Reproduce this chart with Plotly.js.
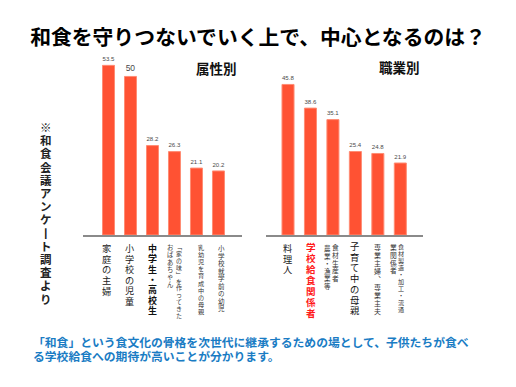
<!DOCTYPE html>
<html>
<head>
<meta charset="utf-8">
<script src="https://cdn.plot.ly/plotly-3.0.1.min.js"></script>
<style>html,body{margin:0;padding:0;background:#fff;}#chart{width:516px;height:387px;}</style>
</head>
<body>
<div id="chart"></div>
<script>
// ---- Data ----
const attrCategories = ['家庭の主婦', '小学校の児童', '中学生・高校生', '「家の味」を作ってきたおばあちゃん', '乳幼児を育成中の母親', '小学校就学前の幼児'];
const attrValues = [53.5, 50, 28.2, 26.3, 21.1, 20.2];
const jobCategories = ['料理人', '学校給食関係者', '食材生産者農業・漁業等', '子育て中の母親', '専業主婦、専業主夫', '食材製造・加工・流通業関係者'];
const jobValues = [45.8, 38.6, 35.1, 25.4, 24.8, 21.9];

// label columns (vertical writing, right column first)
const attrLabelCols = [['家庭の主婦'], ['小学校の児童'], ['中学生・高校生'], ['「家の味」を作ってきた', 'おばあちゃん'], ['乳幼児を育成中の母親'], ['小学校就学前の幼児']];
const jobLabelCols = [['料理人'], ['学校給食関係者'], ['食材生産者', '農業・漁業等'], ['子育て中の母親'], ['専業主婦、専業主夫'], ['食材製造・加工・流通', '業関係者']];

const W = 516, H = 387;
const CJK = '"Noto Sans CJK JP", "Noto Sans CJK SC", sans-serif';
// compact primary metrics for stacked text, CJK glyphs fall back to Noto
const VCJK = '"Liberation Sans", "Noto Sans CJK JP", "Noto Sans CJK SC", sans-serif';
const fx = p => p / W;
const fy = p => 1 - p / H;

const barColor = '#FF5233';
const valFont = {family: '"Liberation Sans", Arial, sans-serif', size: 8.5, color: '#4a4a4a'};
const traces = [
  {
    type: 'bar', x: attrCategories, y: attrValues, xaxis: 'x', yaxis: 'y',
    text: attrValues.map(String), textposition: 'outside', cliponaxis: false,
    textfont: valFont,
    marker: {color: barColor, line: {color: '#FF8C74', width: 1}},
    width: 0.545, hoverinfo: 'none'
  },
  {
    type: 'bar', x: jobCategories, y: jobValues, xaxis: 'x2', yaxis: 'y2',
    text: jobValues.map(String), textposition: 'outside', cliponaxis: false,
    textfont: valFont,
    marker: {color: barColor, line: {color: '#FF8C74', width: 1}},
    width: 0.536, hoverinfo: 'none'
  }
];

const vmap = {'「': '﹁', '」': '﹂', '、': '︑', 'ー': '丨', '。': '︒'};
const annotations = [];
// one annotation per vertical column; line pitch comes from the base font size,
// glyph size from an inner span
function vtext(str, xpx, topPx, pitch, color, bold) {
  const size = +(pitch / 1.15).toFixed(2);
  const chars = Array.from(str).map(c => vmap[c] || c);
  const inner = chars.map(ch => '<span style="font-size:' + size + 'px">' + ch + '</span>').join('<br>');
  annotations.push({
    xref: 'paper', yref: 'paper', x: fx(xpx), y: fy(topPx),
    xanchor: 'center', yanchor: 'top', showarrow: false, align: 'center',
    borderpad: 0,
    text: bold ? '<b>' + inner + '</b>' : inner,
    font: {family: VCJK, size: pitch / 1.3, color: color}
  });
}

// left group labels
vtext(attrLabelCols[0][0], 106, 241.5, 10.7, '#222', false);
vtext(attrLabelCols[1][0], 129.5, 242.5, 10.5, '#222', false);
vtext(attrLabelCols[2][0], 152.5, 241.5, 10.3, '#111', true);
vtext(attrLabelCols[3][0], 179, 243, 6.9, '#333', false);
vtext(attrLabelCols[3][1], 170.5, 243, 7.3, '#333', false);
vtext(attrLabelCols[4][0], 200.5, 243, 7.1, '#333', false);
vtext(attrLabelCols[5][0], 221, 243, 7.5, '#333', false);

// right group labels
vtext(jobLabelCols[0][0], 287, 241.5, 10.6, '#222', false);
vtext(jobLabelCols[1][0], 310.7, 241, 11, '#FF1A1A', true);
vtext(jobLabelCols[2][0], 335, 242.5, 7.8, '#333', false);
vtext(jobLabelCols[2][1], 327, 243, 7.5, '#333', false);
vtext(jobLabelCols[3][0], 354.5, 241, 10.7, '#111', false);
vtext(jobLabelCols[4][0], 377.5, 242, 8, '#333', false);
vtext(jobLabelCols[5][0], 401, 242, 7.0, '#333', false);
vtext(jobLabelCols[5][1], 393.5, 242, 7.8, '#333', false);

// side note
vtext('※和食会議アンケート調査より', 46, 121, 13.2, '#222', true);

// group titles
annotations.push({xref: 'paper', yref: 'paper', x: fx(216.5), y: fy(68.5), xanchor: 'center', yanchor: 'middle', showarrow: false,
  text: '<b>属性別</b>', font: {family: CJK, size: 13.5, color: '#111'}});
annotations.push({xref: 'paper', yref: 'paper', x: fx(399), y: fy(67), xanchor: 'center', yanchor: 'middle', showarrow: false,
  text: '<b>職業別</b>', font: {family: CJK, size: 13.5, color: '#111'}});

// bottom comment
annotations.push({xref: 'paper', yref: 'paper', x: fx(31), y: fy(342.5), xanchor: 'left', yanchor: 'middle', showarrow: false,
  text: '<b>「和食」という食文化の骨格を次世代に継承するための場として、子供たちが食べ</b>', font: {family: VCJK, size: 11.8, color: '#1A7CC4'}});
annotations.push({xref: 'paper', yref: 'paper', x: fx(31), y: fy(357), xanchor: 'left', yanchor: 'middle', showarrow: false,
  text: '<b>る学校給食への期待が高いことが分かります。</b>', font: {family: VCJK, size: 11.8, color: '#1A7CC4'}});

const base = 152 / H;
const layout = {
  width: W, height: H,
  margin: {l: 0, r: 0, t: 0, b: 0},
  paper_bgcolor: '#fff', plot_bgcolor: 'rgba(0,0,0,0)',
  showlegend: false,
  title: {text: '<b>和食を守りつないでいく上で、中心となるのは？</b>', x: 0.5, xanchor: 'center', y: fy(37.5), yanchor: 'middle', yref: 'container',
    font: {family: CJK, size: 20.8, color: '#000'}},
  xaxis: {domain: [fx(83), fx(242)], range: [-1.16, 6.07], anchor: 'y', showline: true, linecolor: '#8a8a8a', linewidth: 2,
    showticklabels: false, ticks: '', showgrid: false, zeroline: false, fixedrange: true},
  yaxis: {domain: [base, fy(60.6)], range: [0, 55], visible: false, showgrid: false, zeroline: false, fixedrange: true},
  xaxis2: {domain: [fx(266), fx(423)], range: [-0.98, 6.01], anchor: 'y2', showline: true, linecolor: '#8a8a8a', linewidth: 2,
    showticklabels: false, ticks: '', showgrid: false, zeroline: false, fixedrange: true},
  yaxis2: {domain: [base, fy(54.2)], range: [0, 55], anchor: 'x2', visible: false, showgrid: false, zeroline: false, fixedrange: true},
  annotations: annotations,
  bargap: 0.4
};

Plotly.newPlot('chart', traces, layout, {displayModeBar: false, staticPlot: true});
</script>
</body>
</html>
